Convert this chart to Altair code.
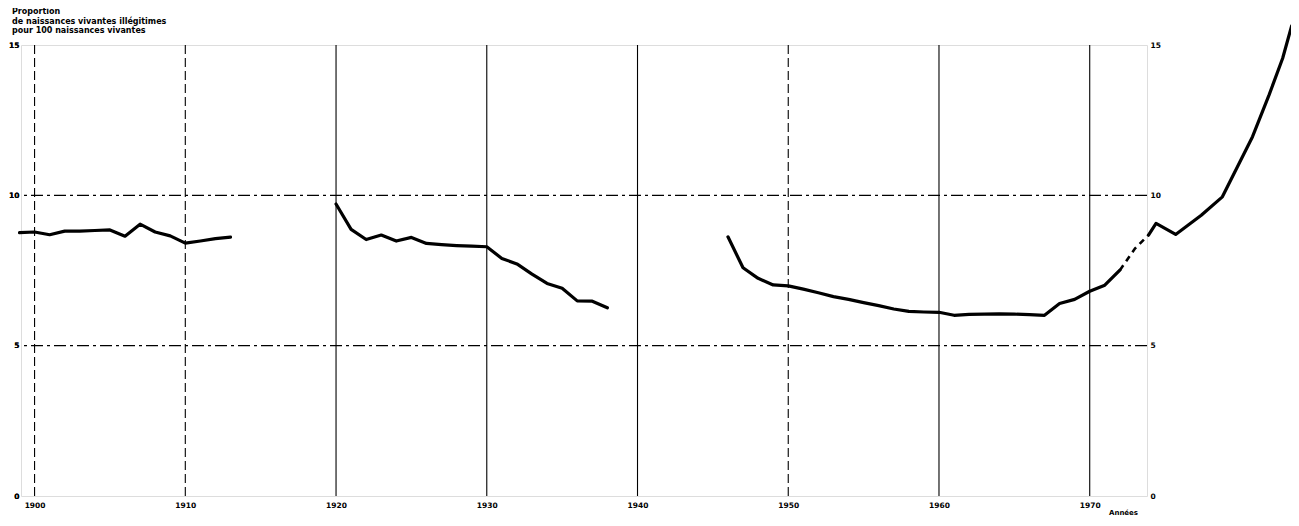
import altair as alt
import pandas as pd

# --- data (illegitimate live births per 100 live births) ---
years_a = list(range(1899, 1914))
vals_a = [8.76, 8.78, 8.69, 8.81, 8.81, 8.83, 8.85, 8.64, 9.04, 8.78, 8.65, 8.41, 8.48, 8.56, 8.61]

years_b = list(range(1920, 1939))
vals_b = [9.71, 8.87, 8.53, 8.68, 8.48, 8.60, 8.40, 8.36, 8.33, 8.31, 8.29, 7.90, 7.72,
          7.38, 7.07, 6.91, 6.49, 6.48, 6.26]

years_c = list(range(1946, 1973))
vals_c = [8.62, 7.59, 7.24, 7.02, 6.99, 6.88, 6.76, 6.63, 6.54, 6.43, 6.33, 6.22, 6.14,
          6.12, 6.11, 6.01, 6.04, 6.05, 6.06, 6.05, 6.03, 6.01, 6.40, 6.54, 6.81, 7.01, 7.51]

years_d = [1972, 1973, 1973.9]          # dashed (provisional) part
vals_d = [7.51, 8.23, 8.68]

years_e = [1973.9, 1974.4, 1975.7, 1977.4, 1978.8, 1979.8, 1980.8, 1981.9, 1982.8, 1983.4]
vals_e = [8.68, 9.07, 8.70, 9.34, 9.95, 10.95, 11.95, 13.34, 14.56, 15.64]

tick_years = [1900, 1910, 1920, 1930, 1940, 1950, 1960, 1970]
solid_grid_years = [1920, 1930, 1940, 1960, 1970]
dashed_grid_years = [1900, 1910, 1950]
h_grid_values = [5, 10]
y_ticks = [0, 5, 10, 15]

title_lines = ["Proportion", "de naissances vivantes illégitimes", "pour 100 naissances vivantes"]

rows = []
for seg, ys, vs in (("a", years_a, vals_a), ("b", years_b, vals_b),
                    ("c", years_c, vals_c), ("e", years_e, vals_e)):
    for y, v in zip(ys, vs):
        rows.append({"year": y, "value": v, "seg": seg})
df_solid = pd.DataFrame(rows)
df_dash = pd.DataFrame({"year": years_d, "value": vals_d})

FONT = "DejaVu Sans"
xs = alt.Scale(domain=[1899.1, 1973.8], nice=False, zero=False)
ys = alt.Scale(domain=[0, 15], nice=False, zero=False)

label_style = dict(labelFont=FONT, labelFontWeight="bold", labelFontSize=7.5,
                   labelColor="black", domain=False, ticks=False, grid=False)

x_axis = alt.Axis(values=tick_years, format="d", title="Années",
                  labelPadding=5, titleFont=FONT, titleFontWeight="bold",
                  titleFontSize=7, titleColor="black", titleX=1102, titleY=16,
                  titleAlign="center", titleBaseline="middle", **label_style)

vgrid_solid = alt.Chart(pd.DataFrame({"year": solid_grid_years})).mark_rule(
    color="black", strokeWidth=1.1
).encode(x=alt.X("year:Q", scale=xs, axis=x_axis))

vgrid_dash = alt.Chart(pd.DataFrame({"year": dashed_grid_years})).mark_rule(
    color="black", strokeWidth=1.1, strokeDash=[9, 4]
).encode(x=alt.X("year:Q", scale=xs, axis=x_axis))

hgrid = alt.Chart(pd.DataFrame({"value": h_grid_values})).mark_rule(
    color="black", strokeWidth=1.3, strokeDash=[12, 4, 3, 4]
).encode(y=alt.Y("value:Q", scale=ys,
                 axis=alt.Axis(orient="left", values=y_ticks, title=None, labelPadding=2,
                               **label_style)))

line_solid = alt.Chart(df_solid).mark_line(
    color="black", strokeWidth=3.2, strokeJoin="round", strokeCap="round"
).encode(
    x=alt.X("year:Q", scale=xs, axis=x_axis),
    y=alt.Y("value:Q", scale=ys,
            axis=alt.Axis(orient="left", values=y_ticks, title=None, labelPadding=2,
                          **label_style)),
    detail="seg:N",
)

line_dash = alt.Chart(df_dash).mark_line(
    color="black", strokeWidth=2.6, strokeDash=[6, 5]
).encode(
    x=alt.X("year:Q", scale=xs, axis=x_axis),
    y=alt.Y("value:Q", scale=ys,
            axis=alt.Axis(orient="right", values=y_ticks, title=None, labelPadding=3,
                          **label_style)),
)

chart = alt.layer(hgrid, vgrid_solid, vgrid_dash, line_solid, line_dash).resolve_axis(
    y="independent"
).properties(
    width=1126,
    height=451,
    autosize=alt.AutoSizeParams(type="none"),
    padding={"left": 13, "top": 37, "right": 144, "bottom": 20},
    title=alt.TitleParams(
        text=title_lines, anchor="start", orient="top", frame="group",
        font=FONT, fontWeight="bold", fontSize=8, lineHeight=9.5,
        color="black", dx=-9, dy=19, offset=8,
    ),
).configure_view(stroke="black", strokeWidth=1.3).configure(background="white")

chart.save("out.html", embed_options={"renderer": "svg", "actions": False})
